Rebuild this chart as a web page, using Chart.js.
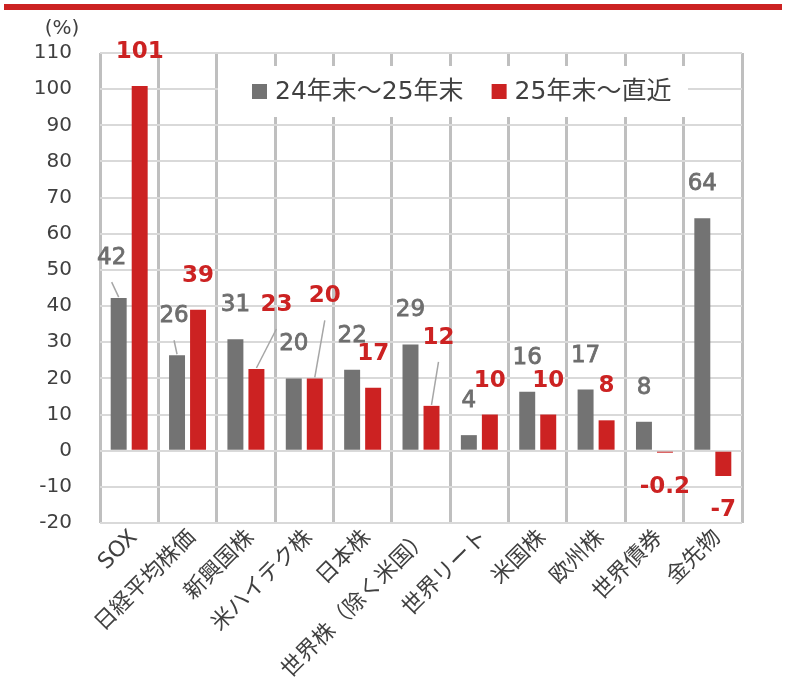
<!DOCTYPE html>
<html lang="ja">
<head>
<meta charset="utf-8">
<title>資産別騰落率</title>
<script src="https://cdn.jsdelivr.net/npm/chart.js@4.4.1/dist/chart.umd.min.js"></script>
<style>
  html, body { margin: 0; padding: 0; background: #fff; }
  #wrap { position: relative; width: 786px; height: 689px; }
  #chart { position: absolute; left: 0; top: 0; }
  #topRule { position: absolute; left: 4px; top: 4px; width: 778px; height: 6px; background: #cc2222; }
</style>
</head>
<body>
<div id="wrap">
  <canvas id="chart" width="786" height="689"></canvas>
  <div id="topRule"></div>
</div>
<script>
const categories = ['SOX', '日経平均株価', '新興国株', '米ハイテク株', '日本株', '世界株（除く米国）',
  '世界リート', '米国株', '欧州株', '世界債券', '金先物'];
const seriesNames = ['24年末～25年末', '25年末～直近'];
const prevYear = [42.2, 26.4, 30.8, 20.0, 22.4, 29.4, 4.3, 16.3, 16.9, 8.0, 64.3];
const recent = [100.9, 39.0, 22.6, 20.0, 17.4, 12.4, 10.0, 10.0, 8.4, -0.2, -7.0];
const yMin = -20, yMax = 110, yStep = 10;

const GRAY = '#737373';
const RED = '#cc2222';
const FONT = '"DejaVu Sans", "Noto Sans CJK JP", sans-serif';

// hand nudges for the crowded value labels: [dx, dy, leader line]
const prevNudge = { 0: [-7, -6, true], 1: [-3, -5, true] };
const recentNudge = { 2: [20, -30, true], 3: [10, -48, true], 5: [7, -34, true] };

function fmt(v) {
  return Math.abs(v) < 1 ? v.toFixed(1) : String(Math.round(v));
}

const valueLabels = {
  id: 'valueLabels',
  afterDatasetsDraw(chart) {
    const ctx = chart.ctx;
    const nudges = [prevNudge, recentNudge];
    const colors = ['#6e6e6e', RED];
    const weights = ['normal', 'bold'];
    chart.data.datasets.forEach((ds, di) => {
      const meta = chart.getDatasetMeta(di);
      meta.data.forEach((bar, i) => {
        const v = ds.data[i];
        const n = nudges[di][i] || [0, 0, false];
        const up = v >= 0;
        const lx = bar.x + n[0];
        const ly = bar.y + (up ? -34 : 34) + n[1];
        if (n[2]) {
          ctx.save();
          ctx.strokeStyle = '#a6a6a6';
          ctx.lineWidth = 1.5;
          ctx.beginPath();
          ctx.moveTo(lx, ly + 24);
          ctx.lineTo(bar.x, bar.y - 1);
          ctx.stroke();
          ctx.restore();
        }
        ctx.save();
        ctx.font = weights[di] + ' 23px ' + FONT;
        ctx.fillStyle = colors[di];
        ctx.textAlign = 'center';
        ctx.textBaseline = 'middle';
        ctx.fillText(fmt(v), lx, ly);
        if (di === 0) {
          // the gray figures are a medium weight, a bit heavier than regular
          ctx.strokeStyle = colors[di];
          ctx.lineWidth = 0.8;
          ctx.strokeText(fmt(v), lx, ly);
        }
        ctx.restore();
      });
    });
  }
};

const innerLegend = {
  id: 'innerLegend',
  afterDatasetsDraw(chart) {
    const ctx = chart.ctx;
    ctx.save();
    ctx.fillStyle = '#fff';
    ctx.fillRect(218, 66, 470, 51);
    ctx.font = '25px ' + FONT;
    ctx.textBaseline = 'middle';
    let x = 252;
    chart.data.datasets.forEach(ds => {
      ctx.fillStyle = ds.backgroundColor;
      ctx.fillRect(x, 84, 15, 15);
      ctx.fillStyle = '#404040';
      ctx.fillText(ds.label, x + 23, 92);
      x += 23 + ctx.measureText(ds.label).width + 28;
    });
    ctx.font = '20px ' + FONT;
    ctx.textAlign = 'center';
    ctx.fillText('(%)', 62, 29);
    ctx.restore();
  }
};

new Chart(document.getElementById('chart'), {
  type: 'bar',
  data: {
    labels: categories,
    datasets: [
      { label: seriesNames[0], data: prevYear, backgroundColor: GRAY },
      { label: seriesNames[1], data: recent, backgroundColor: RED, minBarLength: 2 }
    ]
  },
  options: {
    responsive: false,
    animation: false,
    categoryPercentage: 0.72,
    barPercentage: 0.76,
    layout: { padding: { top: 53, right: 44, left: 0, bottom: 0 } },
    plugins: { legend: { display: false }, tooltip: { enabled: false } },
    scales: {
      x: {
        grid: { color: '#bfbfbf', lineWidth: 3, drawTicks: false, offset: true },
        border: { display: false },
        ticks: {
          color: '#404040', font: { family: FONT, size: 22 },
          minRotation: 45, maxRotation: 45, autoSkip: false, padding: 2, labelOffset: 5
        },
        afterFit(scale) { scale.height = 166; }
      },
      y: {
        min: yMin, max: yMax,
        grid: { color: '#d9d9d9', lineWidth: 2, drawTicks: false },
        border: { display: false },
        ticks: { stepSize: yStep, color: '#404040', font: { family: FONT, size: 20 }, padding: 28 },
        afterFit(scale) { scale.width = 100; }
      }
    }
  },
  plugins: [valueLabels, innerLegend]
});
</script>
</body>
</html>
